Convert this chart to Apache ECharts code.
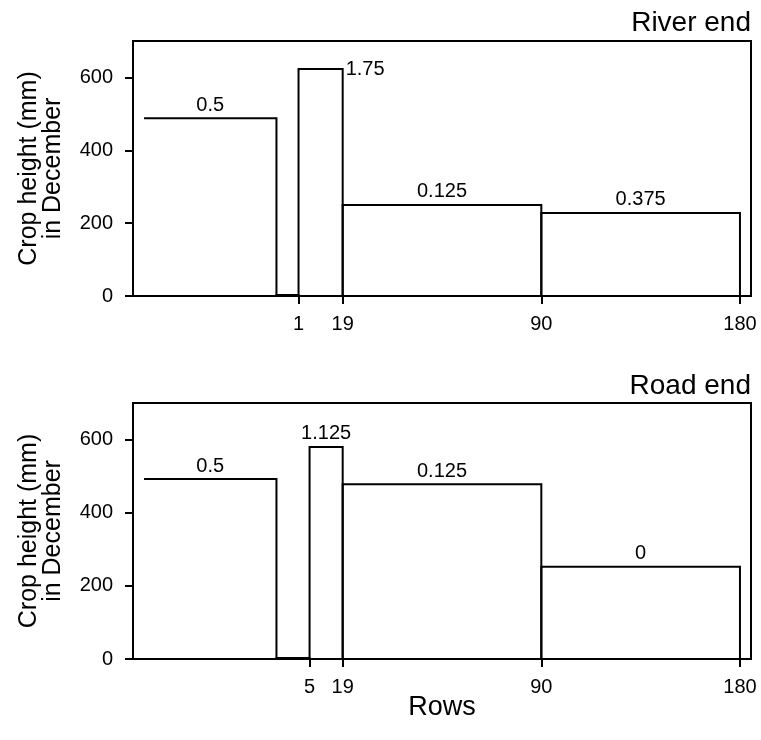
<!DOCTYPE html>
<html>
<head>
<meta charset="utf-8">
<script src="https://cdn.jsdelivr.net/npm/echarts@6/dist/echarts.min.js"></script>
<style>
  html, body { margin: 0; padding: 0; background: #fff; }
  #chart { width: 761px; height: 740px; }
</style>
</head>
<body>
<div id="chart"></div>
<script>
// Zone edges along the row axis (layout units), one more edge than bars
const riverEdges = [0, 6, 7, 9, 18, 27];
const roadEdges  = [0, 6, 7.5, 9, 18, 27];

// Crop height (mm) in December for each zone
const riverHeights = [488, 3, 623, 250, 228];
const roadHeights  = [492, 3, 580, 478, 252];

// Value printed over each zone ('' = none)
const riverLabels = ['0.5', '', '1.75', '0.125', '0.375'];
const roadLabels  = ['0.5', '', '1.125', '0.125', '0'];

// Row numbers marked on the x axis and where they sit
const riverTickPos = [7, 9, 18, 27];
const riverTickText = ['1', '19', '90', '180'];
const roadTickPos = [7.5, 9, 18, 27];
const roadTickText = ['5', '19', '90', '180'];

const yTicks = [0, 200, 400, 600];

// Bars whose value label goes to the right of the top edge
const riverSideLabel = [2];
const roadSideLabel = [];

const FONT = 'Liberation Sans, Arial, sans-serif';

function buildData(edges, heights) {
  return heights.map((h, i) => [edges[i], edges[i + 1], h]);
}

// Each zone is an open outline: left edge (except the first), top, right edge
function renderZone(labels, sideIdx) {
  return function (params, api) {
    const i = params.dataIndex;
    const x0 = api.value(0), x1 = api.value(1), h = api.value(2);
    const pTL = api.coord([x0, h]);
    const pBR = api.coord([x1, 0]);
    const pts = [];
    if (i > 0) pts.push([pTL[0], pBR[1]]);
    pts.push([pTL[0], pTL[1]], [pBR[0], pTL[1]], [pBR[0], pBR[1]]);
    const children = [{
      type: 'polyline',
      shape: { points: pts },
      style: { fill: 'none', stroke: '#000', lineWidth: 2 }
    }];
    const label = labels[i];
    if (label) {
      const side = sideIdx.indexOf(i) >= 0;
      children.push({
        type: 'text',
        style: side ? {
          text: label, x: pBR[0] + 3, y: pTL[1],
          align: 'left', verticalAlign: 'middle',
          font: '20px ' + FONT, fill: '#000'
        } : {
          text: label, x: (pTL[0] + pBR[0]) / 2, y: pTL[1] - 3,
          align: 'center', verticalAlign: 'bottom',
          font: '20px ' + FONT, fill: '#000'
        }
      });
    }
    return { type: 'group', children: children };
  };
}

function xAxisFor(gridIndex, pos, text) {
  return {
    type: 'value', gridIndex: gridIndex, min: -0.5, max: 27.5,
    axisLine: { show: true, onZero: false, lineStyle: { color: '#000', width: 2 } },
    axisTick: { show: true, customValues: pos, length: 8, lineStyle: { color: '#000', width: 2 } },
    axisLabel: {
      show: true, customValues: pos, margin: 18,
      color: '#000', fontSize: 20, fontFamily: FONT,
      formatter: function (v) { const i = pos.indexOf(v); return i >= 0 ? text[i] : ''; }
    },
    splitLine: { show: false }
  };
}

function yAxisFor(gridIndex) {
  return {
    type: 'value', gridIndex: gridIndex, min: 0, max: 700,
    name: 'Crop height (mm)\nin December',
    nameLocation: 'middle', nameRotate: 90, nameGap: 68,
    nameTextStyle: { color: '#000', fontSize: 25, fontFamily: FONT, lineHeight: 24 },
    axisLine: { show: true, onZero: false, lineStyle: { color: '#000', width: 2 } },
    axisTick: { show: true, customValues: yTicks, length: 8, lineStyle: { color: '#000', width: 2 } },
    axisLabel: {
      show: true, customValues: yTicks, margin: 20,
      color: '#000', fontSize: 20, fontFamily: FONT
    },
    splitLine: { show: false }
  };
}

const chart = echarts.init(document.getElementById('chart'), null, { renderer: 'canvas' });

chart.setOption({
  animation: false,
  backgroundColor: '#fff',
  title: [
    { text: 'River end', right: 5, top: 4,
      textStyle: { fontSize: 28, fontWeight: 'normal', color: '#000', fontFamily: FONT } },
    { text: 'Road end', right: 5, top: 367,
      textStyle: { fontSize: 28, fontWeight: 'normal', color: '#000', fontFamily: FONT } }
  ],
  grid: [
    { left: 133, top: 41, width: 618, height: 255, show: true, borderColor: '#000', borderWidth: 2, backgroundColor: 'transparent' },
    { left: 133, top: 403, width: 618, height: 256, show: true, borderColor: '#000', borderWidth: 2, backgroundColor: 'transparent' }
  ],
  xAxis: [
    xAxisFor(0, riverTickPos, riverTickText),
    xAxisFor(1, roadTickPos, roadTickText)
  ],
  yAxis: [yAxisFor(0), yAxisFor(1)],
  graphic: [{
    type: 'text',
    style: { text: 'Rows', x: 442, y: 708, align: 'center', verticalAlign: 'middle', font: '27px ' + FONT, fill: '#000' }
  }],
  series: [
    {
      type: 'custom', xAxisIndex: 0, yAxisIndex: 0,
      renderItem: renderZone(riverLabels, riverSideLabel),
      data: buildData(riverEdges, riverHeights),
      encode: { x: [0, 1], y: 2 }
    },
    {
      type: 'custom', xAxisIndex: 1, yAxisIndex: 1,
      renderItem: renderZone(roadLabels, roadSideLabel),
      data: buildData(roadEdges, roadHeights),
      encode: { x: [0, 1], y: 2 }
    }
  ]
});
</script>
</body>
</html>
